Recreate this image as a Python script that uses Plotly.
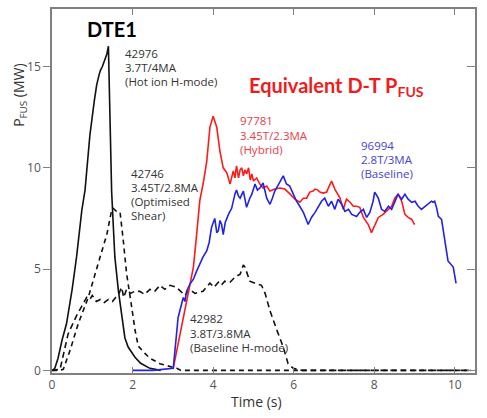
import plotly.graph_objects as go

# ---- data (time in s, fusion power in MW) ----
t_42976 = [0, 0.07, 0.15, 0.25, 0.36, 0.5, 0.61, 0.74, 0.82, 0.94, 1.05, 1.11, 1.17, 1.2, 1.25, 1.32, 1.36, 1.40,
           1.43, 1.46, 1.48, 1.52, 1.56, 1.65, 1.73, 1.81, 1.89, 2.06, 2.2, 2.43, 2.7]
p_42976 = [0, 0.1, 0.6, 1.5, 2.3, 4.0, 5.6, 7.9, 8.9, 11.6, 13.3, 14.1, 14.6, 14.8, 15.0, 15.4, 15.6, 16.0,
           13.5, 10.5, 8.85, 7.2, 5.6, 3.9, 2.6, 1.6, 1.15, 0.65, 0.35, 0.1, 0.0]

t_42746 = [0, 0.2, 0.28, 0.45, 0.65, 0.9, 1.15, 1.36, 1.48, 1.52, 1.6, 1.69, 1.77, 1.85, 1.98, 2.06, 2.14, 2.18,
           2.3, 2.43, 2.68, 3.0, 3.1, 3.2, 10.4]
p_42746 = [0, 0, 0.05, 1.0, 2.3, 3.6, 5.3, 6.7, 7.9, 8.0, 7.85, 7.8, 6.4, 4.8, 3.1, 2.0, 1.2, 1.1,
           0.85, 0.6, 0.33, 0.15, 0.1, 0, 0]

t_42982 = [0, 0.2, 0.4, 0.61, 0.86, 0.94, 1.0, 1.1, 1.2, 1.3, 1.4, 1.5, 1.58, 1.65, 1.73, 1.78, 1.85, 1.95, 2.05,
           2.18, 2.3, 2.43, 2.55, 2.68, 2.8, 2.93, 3.09, 3.22, 3.3, 3.42, 3.55, 3.63, 3.75, 3.85, 3.92, 4.02, 4.13,
           4.2, 4.29, 4.42, 4.54, 4.67, 4.75, 4.79, 4.85, 4.91, 5.04, 5.12, 5.2, 5.29, 5.41, 5.58, 5.74, 5.86, 5.99,
           6.2, 10.4]
p_42982 = [0, 0.05, 1.8, 2.7, 3.6, 3.5, 3.7, 3.4, 3.5, 3.35, 3.5, 3.4, 3.6, 3.75, 4.1, 3.6, 4.0, 3.8, 3.9,
           3.9, 3.75, 4.0, 3.9, 4.2, 4.0, 4.2, 4.1, 3.85, 3.7, 4.0, 3.8, 3.85, 3.9, 4.15, 4.3, 4.1, 4.35,
           4.2, 4.4, 4.35, 4.6, 4.75, 5.2, 5.1, 4.7, 4.4, 4.3, 4.25, 4.2, 3.8, 2.95, 2.0, 1.15, 0.33, 0.1,
           0, 0]

t_97781 = [3.01, 3.1, 3.2, 3.3, 3.38, 3.51, 3.59, 3.67, 3.75, 3.84, 3.92, 4.0, 4.09, 4.17, 4.25, 4.34, 4.42, 4.46,
           4.5, 4.54, 4.58, 4.63, 4.67, 4.71, 4.75, 4.79, 4.83, 4.88, 4.92, 4.96, 5.0, 5.08, 5.16, 5.24, 5.33,
           5.41, 5.53, 5.66, 5.78, 5.91, 6.03, 6.15, 6.24, 6.32, 6.4, 6.48, 6.53, 6.6, 6.65, 6.73, 6.82, 6.88,
           6.94, 7.02, 7.1, 7.15, 7.23, 7.31, 7.4, 7.48, 7.56, 7.64, 7.73, 7.85, 7.93, 8.01, 8.1, 8.22, 8.35,
           8.43, 8.51, 8.59, 8.68, 8.76, 8.84, 8.93, 9.0]
p_97781 = [0.1, 1.0, 2.0, 3.0, 3.8, 5.1, 6.7, 8.4, 9.2, 10.3, 12.0, 12.55, 12.0, 10.8, 10.0, 9.75, 9.2, 9.6,
           9.85, 9.5, 10.1, 9.5, 9.9, 10.0, 9.6, 9.9, 9.7, 10.0, 9.4, 9.7, 9.35, 9.5, 9.2, 9.0, 9.1,
           8.85, 8.95, 9.0, 8.95, 8.7, 8.45, 8.3, 8.5, 8.5, 8.8, 8.85, 8.95, 8.9, 8.8, 8.75, 8.8, 9.1,
           9.35, 8.95, 8.7, 8.5, 7.95, 8.45, 8.3, 8.1, 8.1, 8.05, 7.55, 7.2, 6.8, 7.2, 7.55, 7.7, 7.95,
           8.1, 8.5, 8.7, 8.35, 7.7, 7.55, 7.45, 7.2]

t_96994 = [2.0, 2.5, 3.01, 3.05, 3.13, 3.22, 3.26, 3.3, 3.34, 3.42, 3.51, 3.59, 3.67, 3.75, 3.84, 3.9, 3.96, 4.04,
           4.09, 4.13, 4.17, 4.21, 4.25, 4.3, 4.38, 4.46, 4.54, 4.58, 4.63, 4.67, 4.75, 4.83, 4.91, 4.96, 5.04,
           5.1, 5.16, 5.24, 5.33, 5.41, 5.47, 5.53, 5.6, 5.66, 5.74, 5.82, 5.9, 5.99, 6.07, 6.15, 6.24, 6.36,
           6.44, 6.53, 6.61, 6.69, 6.77, 6.86, 6.94, 7.02, 7.1, 7.19, 7.27, 7.36, 7.44, 7.56, 7.64, 7.73, 7.81,
           7.89, 7.97, 8.01, 8.1, 8.18, 8.26, 8.35, 8.43, 8.51, 8.59, 8.68, 8.76, 8.84, 8.93, 9.01, 9.09, 9.17,
           9.26, 9.34, 9.42, 9.46, 9.5, 9.55, 9.59, 9.67, 9.71, 9.75, 9.83, 9.96, 10.03]
p_96994 = [0, 0, 0.1, 1.0, 2.6, 3.3, 3.6, 3.4, 3.9, 4.25, 4.5, 4.9, 5.25, 5.6, 5.9, 6.3, 7.05, 7.5,
           6.8, 6.9, 7.4, 7.2, 6.7, 7.3, 7.7, 8.0, 8.7, 8.9, 8.6, 8.5, 8.85, 8.05, 8.5, 8.7, 9.2,
           8.9, 9.0, 9.25, 8.5, 8.2, 8.5, 8.85, 9.1, 9.35, 9.6, 9.2, 9.1, 8.7, 8.35, 8.1, 7.8, 7.2,
           7.55, 7.8, 8.1, 8.35, 8.5, 8.1, 8.35, 7.95, 8.45, 8.2, 7.85, 7.95, 7.7, 7.6, 7.8, 7.95, 7.55,
           7.8, 8.35, 8.8, 8.5, 7.95, 7.85, 8.1, 7.95, 8.35, 8.7, 8.45, 8.7, 8.45, 8.3, 8.35, 8.1, 7.95,
           8.1, 8.2, 8.35, 8.3, 8.35, 8.0, 7.6, 7.45, 6.9, 6.4, 5.4, 5.1, 4.3]

x_ticks = [0, 2, 4, 6, 8, 10]
y_ticks = [0, 5, 10, 15]

# annotation text lines
lab_42976 = ["42976", "3.7T/4MA", "(Hot ion H-mode)"]
lab_42746 = ["42746", "3.45T/2.8MA", "(Optimised", "Shear)"]
lab_42982 = ["42982", "3.8T/3.8MA", "(Baseline H-mode)"]
lab_97781 = ["97781", "3.45T/2.3MA", "(Hybrid)"]
lab_96994 = ["96994", "2.8T/3MA", "(Baseline)"]

BLACK = "#111111"
RED = "#ff1a1a"
BLUE = "#2222e6"
RED_TXT = "#e8404a"
BLUE_TXT = "#4444d4"
AX = "#808080"
FONT = "Open Sans"

fig = go.Figure()
fig.add_trace(go.Scatter(x=t_42976, y=p_42976, mode="lines", line=dict(color=BLACK, width=1.6)))
fig.add_trace(go.Scatter(x=t_42746, y=p_42746, mode="lines", line=dict(color=BLACK, width=1.6, dash="5px,4px")))
fig.add_trace(go.Scatter(x=t_42982, y=p_42982, mode="lines", line=dict(color=BLACK, width=1.6, dash="6px,4px")))
fig.add_trace(go.Scatter(x=t_97781, y=p_97781, mode="lines", line=dict(color=RED, width=1.6)))
fig.add_trace(go.Scatter(x=t_96994, y=p_96994, mode="lines", line=dict(color=BLUE, width=1.6)))
fig.add_trace(go.Scatter(x=[0], y=[0], yaxis="y2", mode="lines", line=dict(color="rgba(0,0,0,0)"),
                         hoverinfo="skip"))

ann = []
def block(lines, x0, ys, color):
    for s, y in zip(lines, ys):
        ann.append(dict(x=x0, y=y, xref="x", yref="y", text=s, showarrow=False, xanchor="left",
                        yanchor="middle", font=dict(family=FONT, size=11.5, color=color)))

block(lab_42976, 1.76, [15.64, 14.95, 14.26], "#333333")
block(lab_42746, 1.92, [9.71, 9.02, 8.34, 7.65], "#333333")
block(lab_42982, 3.38, [2.58, 1.84, 1.13], "#333333")
block(lab_97781, 4.61, [12.35, 11.61, 10.92], RED_TXT)
block(lab_96994, 7.63, [11.12, 10.39, 9.70], BLUE_TXT)

ann.append(dict(x=0.82, y=16.87, xref="x", yref="y", text="<b>DTE1</b>", showarrow=False, xanchor="left",
                yanchor="middle", font=dict(family="Lato", size=20, color="#000000")))
ann.append(dict(x=4.84, y=14.0, xref="x", yref="y", text="<b>Equivalent D-T P<sub>FUS</sub></b>",
                showarrow=False, xanchor="left", yanchor="middle",
                font=dict(family="Lato", size=20, color="#ee1c1c")))
ann.append(dict(x=-0.0757, y=13.6, xref="paper", yref="y", text="P<sub>FUS</sub> (MW)", textangle=-90,
                showarrow=False, xanchor="center", yanchor="middle",
                font=dict(family=FONT, size=14, color="#333333")))
ann.append(dict(x=(256 - 52) / 423, y=(373 - 402) / 366, xref="paper", yref="paper", text="Time (s)",
                showarrow=False, xanchor="center", yanchor="middle",
                font=dict(family=FONT, size=14, color="#333333")))

yr = [-0.13, 17.84]
fig.update_layout(
    width=487, height=418,
    margin=dict(l=52, r=12, t=7, b=45),
    paper_bgcolor="white", plot_bgcolor="white",
    showlegend=False,
    annotations=ann,
    xaxis=dict(range=[0, 10.5], tickvals=x_ticks, ticktext=[str(v) for v in x_ticks],
               ticks="inside", ticklen=6, tickwidth=1.3, tickcolor=AX,
               showline=True, linecolor=AX, linewidth=1.5, mirror="ticks",
               showgrid=False, zeroline=False,
               tickfont=dict(family=FONT, size=12, color="#555555")),
    yaxis=dict(range=yr, tickvals=y_ticks, ticktext=[str(v) for v in y_ticks],
               ticks="outside", ticklen=7, tickwidth=1.3, tickcolor=AX,
               showline=True, linecolor=AX, linewidth=1.5, mirror=True,
               showgrid=False, zeroline=False,
               tickfont=dict(family=FONT, size=12, color="#555555")),
    yaxis2=dict(range=yr, overlaying="y", side="right", tickvals=y_ticks, showticklabels=False,
                ticks="inside", ticklen=8, tickwidth=1.3, tickcolor=AX, showline=False,
                showgrid=False, zeroline=False),
)

fig.write_html("out.html")
